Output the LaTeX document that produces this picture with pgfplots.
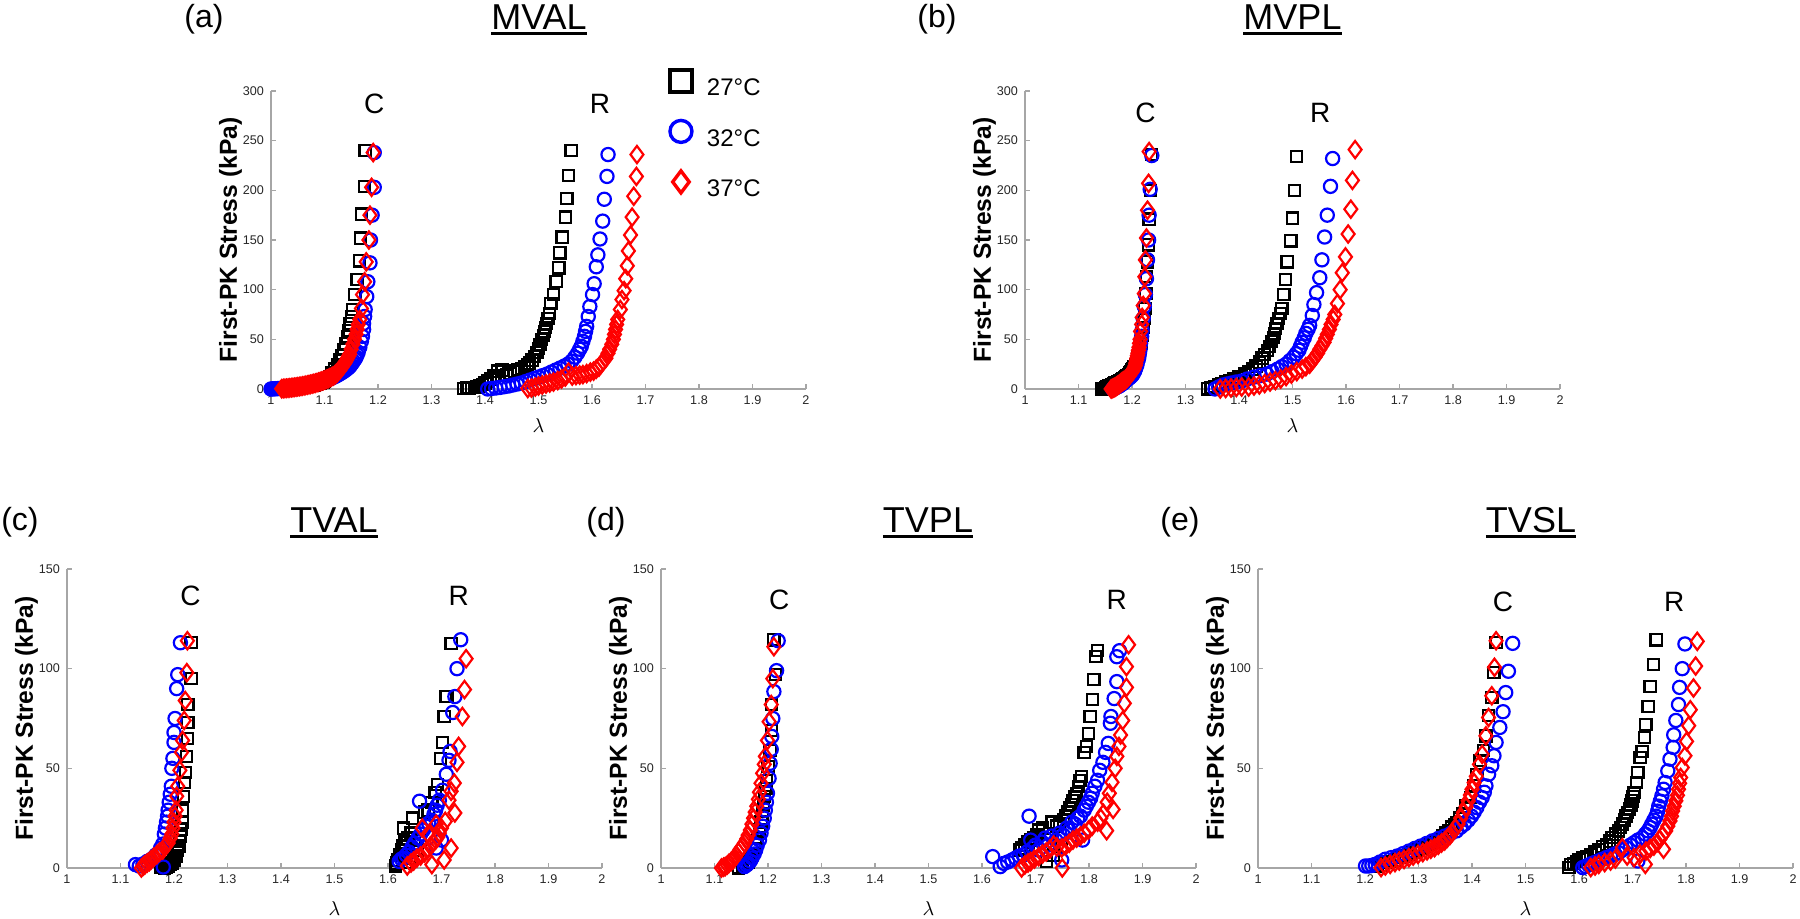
\documentclass[border=0pt]{standalone}
\usepackage{pgfplots}
\pgfplotsset{compat=1.18}
\usepackage{fontspec}
\setmainfont{Liberation Sans}
\newcommand\ul[1]{\setbox0\hbox{#1}\rlap{\rule[-2.75pt]{\wd0}{1.5pt}}\box0}
\tikzset{cr/.style={font=\fontsize{14}{16}\selectfont}}
\pgfplotsset{
  panel/.style={
    scale only axis, width=267.5pt,
    xmin=1, xmax=2, ymin=0,
    axis x line*=bottom, axis y line*=left,
    axis line style={draw=black!35, line width=0.6pt},
    every tick/.style={draw=black!35, line width=0.6pt},
    tick align=inside, major tick length=2.5pt,
    xtick={1,1.1,1.2,1.3,1.4,1.5,1.6,1.7,1.8,1.9,2},
    /pgf/number format/assume math mode=true,
    ticklabel style={font=\fontsize{6.3}{7}\selectfont, text=black!85},
    xlabel={$\lambda$},
    xlabel style={font=\fontsize{10}{12}\selectfont, anchor=center},
    ylabel={First-PK Stress (kPa)},
    ylabel style={font=\bfseries\fontsize{12.3}{14}\selectfont, at={(axis description cs:-0.064,0.5)}, anchor=base},
    clip=false,
  },
  toprow/.style={panel, height=149pt, ymax=300, ytick={0,50,100,150,200,250,300},
    xlabel style={at={(axis description cs:0.5,-0.124)}}},
  botrow/.style={panel, height=149.5pt, ymax=150, ytick={0,50,100,150},
    xlabel style={at={(axis description cs:0.5,-0.134)}}},
  k/.style={only marks, black, mark=square, mark size=2.8pt, mark options={line width=1.1pt}},
  b/.style={only marks, blue, mark=o, mark size=3.3pt, mark options={line width=1.1pt}},
  r/.style={only marks, red, mark=diamond, mark size=4.3pt, mark options={line width=1.1pt}},
}
\begin{document}
\begin{tikzpicture}
\path[use as bounding box] (0,0) rectangle (900pt,459.5pt);

% ---------------- (a) MVAL ----------------
\begin{axis}[toprow, at={(135.5pt,265pt)}, anchor=south west,
  legend style={draw=none, fill=none, at={(axis description cs:0.745,1.072)}, anchor=north west,
    font=\fontsize{12}{14}\selectfont, row sep=8.8pt, inner sep=0pt, cells={anchor=west},
    /tikz/every odd column/.append style={column sep=5.5pt}},
  legend image code/.code={\draw[#1, mark size=5.5pt, mark options={line width=1.7pt}] plot coordinates {(0pt,4pt)};}]
\addplot[k] coordinates {(1.015,0.3) (1.020,0.45) (1.025,0.6) (1.030,0.8) (1.035,1.0) (1.040,1.2) (1.045,1.5) (1.050,1.8) (1.055,2.1) (1.060,2.4) (1.065,2.8) (1.070,3.2) (1.075,3.7) (1.080,4.2) (1.085,4.8) (1.089,5.5) (1.093,6.2) (1.097,7) (1.100,8) (1.105,10) (1.109,12.5) (1.114,16) (1.119,20) (1.124,24) (1.129,29) (1.133,34) (1.136,40) (1.140,46) (1.143,53) (1.146,59) (1.148,66) (1.151,73) (1.153,80) (1.157,95) (1.161,110) (1.165,129) (1.167,152) (1.169,176) (1.175,204) (1.176,240)};
\addlegendentry{27°C}
\addplot[b] coordinates {(1.000,0) (1.003,0.1) (1.006,0.2) (1.009,0.3) (1.012,0.4) (1.015,0.5) (1.018,0.6) (1.021,0.7) (1.024,0.8) (1.027,0.95) (1.030,1.1) (1.033,1.25) (1.036,1.4) (1.039,1.55) (1.042,1.7) (1.045,1.9) (1.048,2.1) (1.051,2.3) (1.054,2.5) (1.057,2.75) (1.060,3) (1.063,3.25) (1.066,3.5) (1.069,3.8) (1.072,4.1) (1.075,4.45) (1.078,4.8) (1.081,5.2) (1.084,5.6) (1.087,6) (1.090,6.5) (1.093,7) (1.096,7.5) (1.099,8) (1.102,8.6) (1.105,9.2) (1.108,9.8) (1.111,10.5) (1.114,11.2) (1.117,12) (1.120,12.7) (1.123,13.5) (1.126,14.4) (1.129,15.3) (1.132,16.3) (1.135,17.4) (1.138,18.5) (1.141,19.7) (1.144,21) (1.147,22.5) (1.149,24) (1.152,26) (1.154,28) (1.157,30) (1.159,32) (1.161,34.5) (1.163,37) (1.166,42) (1.169,48) (1.171,53) (1.173,60) (1.173,66) (1.175,73) (1.176,80) (1.179,93) (1.181,108) (1.185,127) (1.186,150) (1.189,175) (1.193,203) (1.193,238)};
\addlegendentry{32°C}
\addplot[r] coordinates {(1.020,0.3) (1.023,0.45) (1.026,0.6) (1.029,0.75) (1.032,0.9) (1.035,1.1) (1.038,1.3) (1.041,1.5) (1.044,1.7) (1.047,1.95) (1.050,2.2) (1.053,2.45) (1.056,2.7) (1.059,3) (1.062,3.3) (1.065,3.65) (1.068,4) (1.071,4.35) (1.074,4.7) (1.077,5.1) (1.080,5.5) (1.083,5.95) (1.086,6.4) (1.089,6.9) (1.092,7.4) (1.095,7.95) (1.098,8.5) (1.101,9.15) (1.104,9.8) (1.107,10.5) (1.110,11.3) (1.113,12.1) (1.116,13) (1.119,14) (1.121,15) (1.124,16.5) (1.126,18) (1.129,19.5) (1.131,21) (1.133,22.5) (1.135,24) (1.137,25.5) (1.139,27) (1.141,29) (1.143,31) (1.145,33) (1.147,35) (1.150,40) (1.153,45) (1.156,50) (1.159,55) (1.161,60) (1.163,65) (1.166,70) (1.169,81) (1.171,95) (1.175,108) (1.178,128) (1.183,150) (1.185,175) (1.188,203) (1.191,238)};
\addlegendentry{37°C}
\addplot[k, forget plot] coordinates {(1.360,0.5) (1.365,0.8) (1.370,1) (1.375,1.3) (1.380,1.6) (1.385,2) (1.390,3) (1.395,4.5) (1.400,6) (1.405,8) (1.410,10) (1.416,13) (1.424,18) (1.432,19) (1.440,14) (1.447,16) (1.455,18) (1.462,19.5) (1.468,20.5) (1.474,22) (1.479,24) (1.483,26) (1.488,29) (1.493,33) (1.497,37) (1.500,41) (1.503,45) (1.506,50) (1.509,54) (1.511,58) (1.513,62) (1.515,66) (1.518,71) (1.520,76) (1.523,86) (1.528,95) (1.533,108) (1.538,122) (1.540,137) (1.544,153) (1.550,173) (1.553,192) (1.556,215) (1.561,240)};
\addplot[b, forget plot] coordinates {(1.405,0) (1.412,0.5) (1.420,1) (1.428,1.6) (1.436,2.3) (1.444,3) (1.452,4) (1.460,5) (1.468,6) (1.476,7.5) (1.484,9) (1.492,10.5) (1.500,12) (1.508,13.5) (1.516,15) (1.524,17) (1.532,19) (1.540,21) (1.548,23) (1.555,25) (1.562,28) (1.568,32) (1.573,36) (1.577,40) (1.580,43) (1.583,48) (1.586,53) (1.588,58) (1.590,63) (1.593,73) (1.596,83) (1.601,95) (1.604,106) (1.608,123) (1.611,135) (1.615,151) (1.620,169) (1.623,191) (1.628,214) (1.630,236)};
\addplot[r, forget plot] coordinates {(1.480,0.5) (1.487,1) (1.494,2) (1.500,3) (1.507,4) (1.514,5) (1.521,6) (1.528,7) (1.536,8.5) (1.543,10) (1.550,12) (1.556,17) (1.563,13) (1.570,13.5) (1.577,14) (1.583,14.5) (1.590,15.5) (1.597,17) (1.603,18) (1.608,20) (1.613,22) (1.617,25) (1.621,28) (1.626,31) (1.630,36) (1.633,40) (1.637,45) (1.640,50) (1.642,55) (1.644,60) (1.646,65) (1.648,70) (1.653,80) (1.656,90) (1.660,99) (1.663,111) (1.666,124) (1.668,139) (1.672,155) (1.675,173) (1.678,194) (1.683,214) (1.684,236)};
\node[cr] at (axis cs:1.193,287) {C};
\node[cr] at (axis cs:1.615,287) {R};
\end{axis}

% ---------------- (b) MVPL ----------------
\begin{axis}[toprow, at={(512.5pt,265pt)}, anchor=south west]
\addplot[k] coordinates {(1.144,0) (1.147,0.7) (1.150,1.5) (1.153,2.2) (1.156,3) (1.159,3.7) (1.162,4.5) (1.165,5.2) (1.168,6) (1.171,6.7) (1.174,7.5) (1.177,8.2) (1.180,9) (1.183,10) (1.186,11) (1.189,12) (1.191,13) (1.194,14.5) (1.196,16) (1.198,17.5) (1.200,19) (1.202,20.5) (1.204,22) (1.206,24.5) (1.208,27) (1.210,29.5) (1.211,32) (1.213,35.5) (1.214,39) (1.216,42.5) (1.217,46) (1.219,54) (1.221,62) (1.223,71) (1.224,81) (1.226,96) (1.227,113) (1.229,128) (1.231,145) (1.232,171) (1.235,200) (1.236,236)};
\addplot[b] coordinates {(1.164,0) (1.166,0.5) (1.168,1) (1.170,1.5) (1.172,2) (1.174,2.5) (1.176,3) (1.178,3.7) (1.180,4.5) (1.182,5.2) (1.184,6) (1.186,7) (1.188,8) (1.190,9) (1.192,10) (1.195,11) (1.197,12) (1.200,13.5) (1.202,15) (1.205,18) (1.207,21) (1.209,24) (1.210,27) (1.212,30) (1.213,33) (1.214,36.5) (1.215,40) (1.216,46) (1.218,53) (1.219,59) (1.221,71) (1.223,83) (1.225,95) (1.227,111) (1.229,130) (1.231,150) (1.232,175) (1.234,201) (1.237,235)};
\addplot[r] coordinates {(1.161,0) (1.163,0.5) (1.165,1) (1.167,1.5) (1.169,2) (1.171,2.7) (1.173,3.5) (1.175,4.2) (1.177,5) (1.179,6) (1.181,7) (1.183,7.7) (1.185,8.5) (1.188,9.5) (1.190,10.5) (1.192,11.7) (1.194,13) (1.196,14.5) (1.198,16) (1.200,17.2) (1.201,18.5) (1.203,19.7) (1.204,21) (1.206,23.5) (1.207,26) (1.208,28.5) (1.209,31) (1.210,33.5) (1.211,36) (1.212,39) (1.213,42) (1.214,46) (1.215,50) (1.216,58) (1.218,65) (1.219,72) (1.221,84) (1.223,96) (1.224,113) (1.225,130) (1.227,152) (1.229,180) (1.231,207) (1.232,239)};
\addplot[k] coordinates {(1.341,0) (1.348,1) (1.355,2.5) (1.362,4) (1.368,5.5) (1.375,7) (1.382,8.5) (1.391,10) (1.400,12) (1.411,15) (1.418,17) (1.425,20) (1.432,23) (1.438,27) (1.443,31) (1.448,35) (1.453,39) (1.457,43) (1.461,48) (1.464,52) (1.466,56) (1.468,61) (1.471,66) (1.474,71) (1.477,76) (1.480,81) (1.484,95) (1.487,110) (1.490,128) (1.497,149) (1.500,172) (1.504,200) (1.508,234)};
\addplot[b] coordinates {(1.355,0) (1.362,2) (1.370,4) (1.378,5) (1.386,6) (1.395,7) (1.405,8) (1.415,10) (1.428,12) (1.440,13.5) (1.452,15) (1.462,17.5) (1.472,20) (1.480,22.5) (1.488,25) (1.495,28.5) (1.502,32) (1.507,35.5) (1.512,39) (1.515,43) (1.518,47) (1.522,51.5) (1.525,56) (1.529,60) (1.532,64) (1.537,74) (1.540,85) (1.545,97) (1.551,112) (1.555,130) (1.560,153) (1.565,175) (1.571,204) (1.575,232)};
\addplot[r] coordinates {(1.365,0) (1.375,0.5) (1.385,1) (1.395,1.5) (1.405,2) (1.418,2) (1.428,3) (1.438,4) (1.448,5.5) (1.458,7) (1.468,8.5) (1.478,10) (1.488,12.5) (1.498,15) (1.508,17.5) (1.518,20) (1.525,22.5) (1.532,25) (1.537,28.5) (1.542,32) (1.547,36) (1.551,40) (1.555,43.5) (1.559,47) (1.562,51) (1.565,55) (1.569,60) (1.572,65) (1.576,70) (1.579,75) (1.584,86) (1.589,100) (1.593,117) (1.599,133) (1.604,156) (1.609,181) (1.612,210) (1.617,241)};
\node[cr] at (axis cs:1.225,278) {C};
\node[cr] at (axis cs:1.552,278) {R};
\end{axis}

% ---------------- (c) TVAL ----------------
\begin{axis}[botrow, at={(33.5pt,25.5pt)}, anchor=south west]
\addplot[k] coordinates {(1.175,0.5) (1.178,0.2) (1.182,0) (1.186,0.5) (1.189,1) (1.193,1.8) (1.196,2.5) (1.200,4) (1.204,6) (1.207,9) (1.209,11) (1.210,13.5) (1.212,16) (1.213,19.5) (1.215,23) (1.216,29) (1.218,36) (1.220,43) (1.221,48) (1.223,56) (1.225,65) (1.226,73) (1.226,82) (1.232,95) (1.232,113)};
\addplot[b] coordinates {(1.128,1.7) (1.135,1) (1.142,2) (1.150,3.3) (1.156,4) (1.161,5) (1.166,6.5) (1.171,7.5) (1.175,10) (1.179,12) (1.180,0.5) (1.182,17) (1.184,20) (1.186,23) (1.188,26) (1.189,29) (1.191,33) (1.193,37) (1.195,41) (1.196,50) (1.198,55) (1.200,63) (1.200,68) (1.202,75) (1.205,90) (1.207,97) (1.212,113)};
\addplot[r] coordinates {(1.139,0) (1.143,1) (1.146,1.7) (1.150,2.5) (1.154,3.2) (1.157,4) (1.162,5.3) (1.168,6.7) (1.173,8) (1.179,9) (1.184,11) (1.189,12.5) (1.193,15) (1.196,17) (1.198,20) (1.200,23) (1.202,26) (1.204,29) (1.205,36) (1.207,41) (1.211,49) (1.214,58) (1.216,64) (1.219,74) (1.221,84) (1.224,98) (1.225,114)};
\addplot[k] coordinates {(1.614,1) (1.616,2.5) (1.618,4) (1.622,6.5) (1.625,9) (1.628,11) (1.632,3) (1.632,13) (1.629,20) (1.636,15) (1.640,5) (1.643,17.5) (1.646,25) (1.650,12) (1.654,9) (1.661,14) (1.668,28) (1.675,29) (1.682,33) (1.688,38) (1.693,42) (1.698,55) (1.702,63) (1.705,76) (1.707,86) (1.710,86) (1.718,112.5)};
\addplot[b] coordinates {(1.621,3.3) (1.625,4.5) (1.629,5) (1.634,6.5) (1.639,8) (1.645,10.5) (1.650,12.5) (1.656,15) (1.661,17) (1.666,19) (1.671,21) (1.676,22.5) (1.682,24) (1.686,27) (1.689,29) (1.690,10) (1.692,31.5) (1.696,34) (1.659,33.5) (1.700,14) (1.702,39) (1.709,47) (1.714,54) (1.716,58.5) (1.721,78) (1.725,86) (1.729,100) (1.736,114.5)};
\addplot[r] coordinates {(1.636,1) (1.643,2.5) (1.648,3.5) (1.654,5) (1.661,6) (1.668,7.5) (1.673,9) (1.675,17) (1.679,11) (1.682,1.7) (1.684,12.5) (1.689,14) (1.690,22) (1.693,15.5) (1.696,17.5) (1.664,20) (1.700,20) (1.705,4) (1.707,23.4) (1.718,10) (1.725,27.6) (1.714,34) (1.718,38.5) (1.724,42.6) (1.729,53) (1.732,61) (1.739,76) (1.743,89.5) (1.746,105)};
\node[cr] at (axis cs:1.231,136.5) {C};
\node[cr] at (axis cs:1.732,136.5) {R};
\end{axis}

% ---------------- (d) TVPL ----------------
\begin{axis}[botrow, at={(330.5pt,25.5pt)}, anchor=south west]
\addplot[k] coordinates {(1.145,0) (1.152,0.7) (1.158,1.8) (1.163,3) (1.167,5) (1.170,7) (1.174,9.5) (1.177,12) (1.180,15) (1.184,19) (1.187,23) (1.190,27) (1.192,31.5) (1.194,36) (1.196,40) (1.197,44) (1.200,51) (1.204,59) (1.206,69) (1.206,82) (1.214,97) (1.211,114.4)};
\addplot[b] coordinates {(1.156,0.7) (1.160,1.5) (1.163,2.3) (1.167,3.5) (1.170,5) (1.174,7) (1.177,9) (1.180,11.5) (1.184,14) (1.187,17.5) (1.190,21) (1.193,25) (1.195,29) (1.197,33) (1.199,37.5) (1.202,45) (1.204,52.5) (1.206,59.5) (1.207,66) (1.209,75) (1.211,88.5) (1.216,99) (1.219,114)};
\addplot[r] coordinates {(1.113,0) (1.117,0.4) (1.120,0.7) (1.124,1.5) (1.127,2.3) (1.131,3.2) (1.135,4.2) (1.138,5.3) (1.141,6.5) (1.145,8) (1.148,9.4) (1.152,10.7) (1.156,12.5) (1.160,14.5) (1.163,16.5) (1.167,19) (1.170,22) (1.173,25) (1.176,28) (1.179,31) (1.182,34.5) (1.184,38) (1.187,42.5) (1.190,47.5) (1.193,52) (1.195,56) (1.199,64) (1.202,73.4) (1.206,82) (1.209,95) (1.211,111)};
\addplot[k] coordinates {(1.670,9) (1.674,10) (1.680,11.5) (1.686,13) (1.691,14) (1.697,15) (1.702,16.5) (1.706,19) (1.713,20) (1.720,3.2) (1.727,17.4) (1.731,23) (1.734,6.5) (1.740,21) (1.745,22.4) (1.749,10.7) (1.752,24) (1.756,26) (1.760,28) (1.763,30) (1.767,32) (1.770,34) (1.774,36) (1.777,37.5) (1.780,41) (1.783,44) (1.786,46) (1.791,58) (1.795,61) (1.799,67.6) (1.802,76) (1.807,84.6) (1.809,94.6) (1.813,106) (1.816,109)};
\addplot[b] coordinates {(1.620,5.7) (1.634,0.7) (1.641,2.3) (1.648,3) (1.656,4) (1.663,5) (1.670,6) (1.677,6.5) (1.684,8) (1.688,26) (1.691,14) (1.695,10) (1.700,11.5) (1.706,9) (1.712,13) (1.718,15) (1.724,11.5) (1.730,16) (1.738,14) (1.745,17.5) (1.749,4) (1.752,16.5) (1.758,20) (1.763,19) (1.768,23) (1.774,22) (1.779,25) (1.784,26) (1.788,14) (1.791,29) (1.795,31) (1.799,33) (1.803,35) (1.806,37.5) (1.811,41) (1.816,44) (1.820,49) (1.826,53) (1.831,58) (1.836,62.5) (1.840,72.6) (1.841,76) (1.847,85) (1.852,93.5) (1.852,106) (1.857,109)};
\addplot[r] coordinates {(1.674,0) (1.680,1.5) (1.686,2.5) (1.691,3.2) (1.698,4.5) (1.706,5.7) (1.713,7) (1.720,8) (1.727,9.5) (1.734,11.5) (1.740,10.5) (1.749,10) (1.750,0) (1.756,11) (1.763,12.4) (1.770,14) (1.777,15) (1.784,16) (1.791,17.4) (1.799,19) (1.806,21) (1.816,23) (1.822,25) (1.827,27.4) (1.833,18.7) (1.834,33) (1.838,37.5) (1.845,29.4) (1.843,43) (1.849,50) (1.852,56) (1.856,61) (1.859,66.7) (1.863,74) (1.866,82.6) (1.870,90.6) (1.870,101) (1.874,112)};
\node[cr] at (axis cs:1.221,134.4) {C};
\node[cr] at (axis cs:1.852,134.4) {R};
\end{axis}

% ---------------- (e) TVSL ----------------
\begin{axis}[botrow, at={(629pt,25.5pt)}, anchor=south west]
\addplot[k] coordinates {(1.223,1) (1.230,1.5) (1.238,2.7) (1.246,3.3) (1.255,4) (1.264,5.2) (1.272,6) (1.281,7) (1.290,7.7) (1.298,9) (1.306,10) (1.315,11) (1.322,12) (1.330,13.3) (1.338,14.4) (1.345,16) (1.351,17.5) (1.356,18.6) (1.362,20.5) (1.367,21.8) (1.371,22.8) (1.377,25) (1.382,27) (1.389,31) (1.397,35.3) (1.404,41.2) (1.409,47) (1.415,54) (1.421,58.8) (1.426,66.3) (1.431,76.4) (1.437,85.6) (1.441,98) (1.445,113)};
\addplot[b] coordinates {(1.201,1) (1.207,1) (1.213,1.3) (1.219,1.8) (1.228,3) (1.238,4.4) (1.249,5.2) (1.260,6) (1.271,7.2) (1.282,8.5) (1.293,9.8) (1.304,11) (1.315,12.3) (1.326,13.6) (1.337,14.8) (1.349,16) (1.360,17.3) (1.371,18.6) (1.379,20.5) (1.386,22) (1.393,24) (1.399,26) (1.404,28) (1.409,30.3) (1.414,33) (1.419,35.3) (1.423,38) (1.426,41.2) (1.431,47) (1.437,51.3) (1.441,56.3) (1.445,63) (1.452,70.5) (1.458,78.4) (1.463,88) (1.468,98.7) (1.476,112.7)};
\addplot[r] coordinates {(1.230,0.2) (1.238,1) (1.247,1.8) (1.256,2.7) (1.264,3.5) (1.273,4.3) (1.282,5.2) (1.290,6) (1.299,6.8) (1.308,7.7) (1.316,8.6) (1.323,9.4) (1.330,10.2) (1.337,11.4) (1.343,12.5) (1.349,13.6) (1.354,15) (1.359,16.4) (1.363,17.8) (1.369,20) (1.374,22) (1.379,25) (1.384,27.8) (1.389,30.8) (1.393,33.7) (1.397,36.6) (1.400,39.5) (1.404,42.8) (1.408,46) (1.414,52) (1.419,57) (1.426,66.3) (1.431,75.5) (1.437,86.4) (1.442,100.7) (1.445,114)};
\addplot[k] coordinates {(1.581,0.2) (1.585,1.8) (1.590,2.2) (1.595,3.3) (1.600,4.4) (1.607,5) (1.614,5.8) (1.622,6.9) (1.630,8) (1.637,9.4) (1.644,10.6) (1.651,11.9) (1.657,13.5) (1.662,15.2) (1.668,17) (1.674,18.6) (1.678,20.3) (1.681,22) (1.685,24) (1.688,26) (1.691,27.8) (1.694,29.5) (1.697,31.6) (1.699,33.7) (1.701,35.8) (1.703,37.9) (1.707,43) (1.710,48) (1.714,55.4) (1.718,58.5) (1.722,65.5) (1.725,72) (1.729,81) (1.733,91) (1.739,102) (1.744,114.4)};
\addplot[b] coordinates {(1.607,0.2) (1.612,0.8) (1.618,1.5) (1.624,2.2) (1.629,2.7) (1.636,3.5) (1.643,4.3) (1.651,5.2) (1.659,6) (1.667,7) (1.674,7.7) (1.681,9) (1.688,10.2) (1.696,11.5) (1.703,12.7) (1.710,3.5) (1.710,14) (1.718,15.2) (1.724,17) (1.729,18.6) (1.733,20.3) (1.736,22) (1.740,24) (1.744,26) (1.747,28.5) (1.749,31) (1.752,33.5) (1.755,36.2) (1.758,39.5) (1.761,42.9) (1.766,48.7) (1.770,54.6) (1.776,60.5) (1.777,66.8) (1.781,74) (1.786,82) (1.788,90.6) (1.793,100) (1.798,112.4)};
\addplot[r] coordinates {(1.622,0.2) (1.630,1) (1.637,1.8) (1.648,2.7) (1.659,3.5) (1.668,4.5) (1.681,10.2) (1.690,6) (1.703,5.2) (1.714,7) (1.724,1.8) (1.725,8.5) (1.733,9.8) (1.740,11) (1.746,12.7) (1.751,14.4) (1.756,16.5) (1.758,9.4) (1.762,18.6) (1.766,21) (1.770,23.6) (1.773,26) (1.775,28.6) (1.778,31) (1.781,33.7) (1.784,36.5) (1.786,39.5) (1.788,42.5) (1.790,45.4) (1.793,50.4) (1.798,56.3) (1.801,63.5) (1.805,71.4) (1.808,79.4) (1.814,90.3) (1.818,101.3) (1.821,113.7)};
\node[cr] at (axis cs:1.458,133.3) {C};
\node[cr] at (axis cs:1.778,133.3) {R};
\end{axis}

% ---------------- titles ----------------
\node[anchor=base, font=\fontsize{16}{18}\selectfont] at (102pt,445.5pt) {(a)};
\node[anchor=base, font=\fontsize{18}{22}\selectfont] at (269.5pt,444.5pt) {\ul{MVAL}};
\node[anchor=base, font=\fontsize{16}{18}\selectfont] at (468.5pt,445.5pt) {(b)};
\node[anchor=base, font=\fontsize{18}{22}\selectfont] at (646.25pt,444.5pt) {\ul{MVPL}};
\node[anchor=base, font=\fontsize{16}{18}\selectfont] at (10pt,194pt) {(c)};
\node[anchor=base, font=\fontsize{18}{22}\selectfont] at (167pt,193pt) {\ul{TVAL}};
\node[anchor=base, font=\fontsize{16}{18}\selectfont] at (303pt,194pt) {(d)};
\node[anchor=base, font=\fontsize{18}{22}\selectfont] at (464pt,193pt) {\ul{TVPL}};
\node[anchor=base, font=\fontsize{16}{18}\selectfont] at (590pt,194pt) {(e)};
\node[anchor=base, font=\fontsize{18}{22}\selectfont] at (765.5pt,193pt) {\ul{TVSL}};
\end{tikzpicture}
\end{document}
